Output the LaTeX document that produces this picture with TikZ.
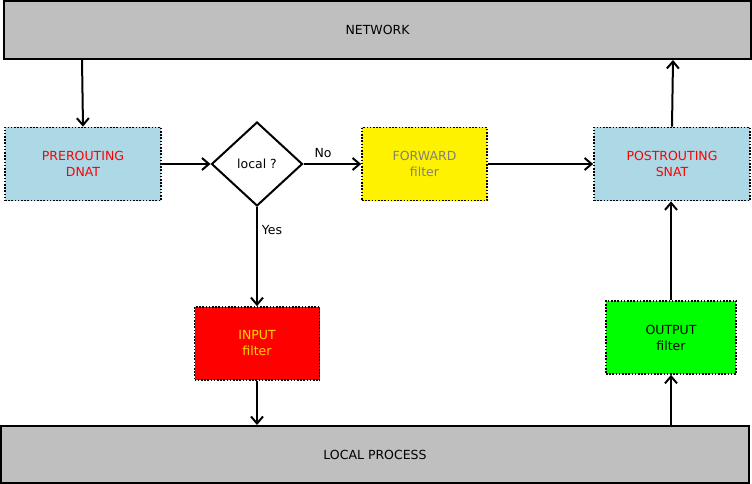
\documentclass[tikz,border=0pt]{standalone}
\usepackage{fontspec}
\setmainfont{DejaVu Sans}
\usetikzlibrary{arrows.meta,shapes.geometric}
\definecolor{boxgray}{HTML}{BFBFBF}
\definecolor{lblue}{HTML}{ADD8E6}
\definecolor{txtred}{HTML}{FF0000}
\definecolor{txtgold}{HTML}{FFD700}
\definecolor{txtgray}{HTML}{808080}
\definecolor{brightgreen}{HTML}{00FF00}
\begin{document}
\begin{tikzpicture}[x=1pt,y=-1pt,
  font=\fontsize{12.5}{16}\selectfont,
  band/.style={draw=black,line width=2pt,fill=boxgray,inner sep=0pt},
  chain/.style={draw=black,line width=1.7pt,dash pattern=on 1.6pt off 1.6pt,inner sep=0pt,align=center},
  conn/.style={line width=2pt,-{Straight Barb[length=7pt,width=12pt,line width=2pt]}},
  lbl/.style={inner sep=1pt}
]
\useasboundingbox (0,0) rectangle (752,484);
% bands
\node[band,minimum width=747pt,minimum height=58pt] (net) at (377.5,30) {NETWORK};
\node[band,minimum width=748pt,minimum height=57pt] (loc) at (375,454.5) {LOCAL PROCESS};
% chains
\node[chain,fill=lblue,text=txtred,minimum width=156pt,minimum height=73pt] (pre) at (83,164) {PREROUTING\\DNAT};
\node[draw=black,line width=2pt,diamond,aspect=1.0833,minimum width=91pt,minimum height=84pt,inner sep=0pt] (dec) at (257,164) {local ?};
\node[chain,fill=yellow,text=txtgray,minimum width=125pt,minimum height=73pt] (fwd) at (424.5,164) {FORWARD\\filter};
\node[chain,fill=lblue,text=txtred,minimum width=156pt,minimum height=73pt] (post) at (672,164) {POSTROUTING\\SNAT};
\node[chain,fill=red,text=txtgold,minimum width=125pt,minimum height=73pt] (inp) at (257,343.5) {INPUT\\filter};
\node[chain,fill=brightgreen,text=black,minimum width=130pt,minimum height=73pt] (out) at (671,337.5) {OUTPUT\\filter};
% connectors
\coordinate (netA) at (82,59);
\coordinate (netB) at (673,60);
\coordinate (locA) at (257,425);
\coordinate (locB) at (671,426);
\draw[conn] (netA) -- (pre.north -| 83,0);
\draw[conn] (pre.east) -- (dec.west);
\draw[conn] (dec.east) -- (fwd.west);
\node[lbl] (no) at (323,153) {No};
\draw[conn] (dec.south) -- (inp.north);
\node[lbl] (yes) at (272,230) {Yes};
\draw[conn] (inp.south) -- (locA);
\draw[conn] (fwd.east) -- (post.west);
\draw[conn] (post.north) -- (netB);
\draw[conn] (out.north) -- (post.south -| 671,0);
\draw[conn] (locB) -- (out.south);
\end{tikzpicture}
\end{document}
